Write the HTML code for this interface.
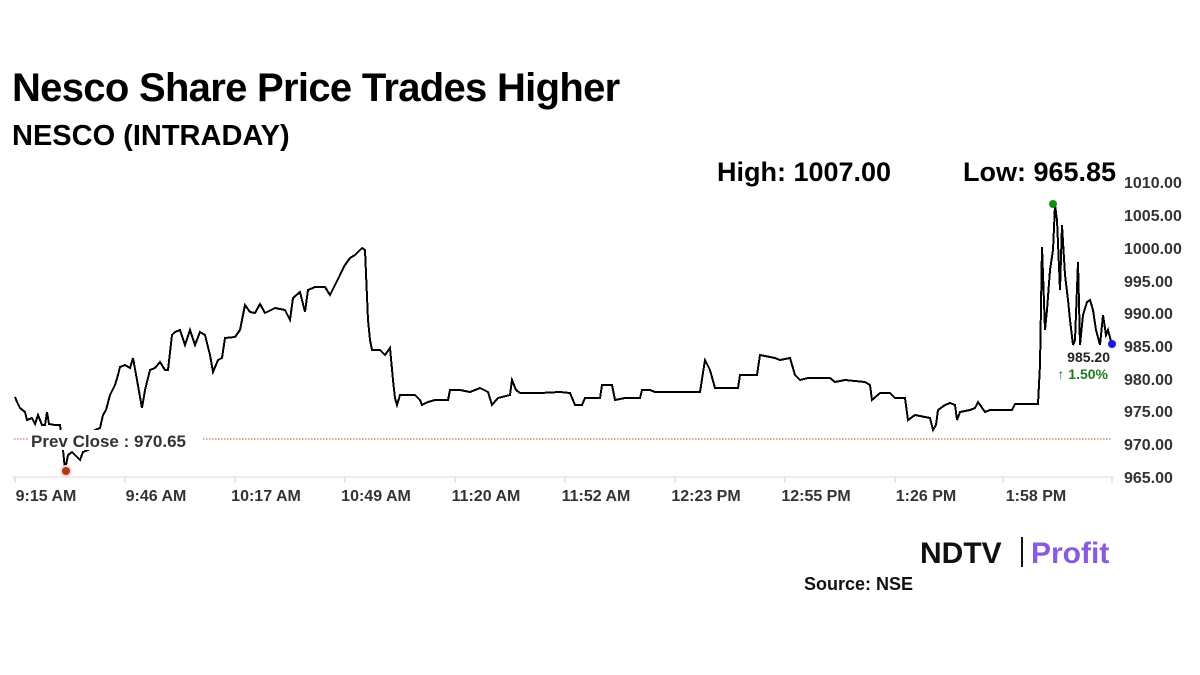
<!DOCTYPE html>
<html><head><meta charset="utf-8"><style>
body{margin:0;width:1200px;height:675px;background:#fff;overflow:hidden;font-family:"Liberation Sans",sans-serif}
.t{position:absolute;white-space:nowrap;color:#000}
</style></head><body>
<div class="t" style="left:12px;top:66px;font-size:40px;font-weight:bold;letter-spacing:-0.7px">Nesco Share Price Trades Higher</div>
<div class="t" style="left:12px;top:120px;font-size:29px;font-weight:bold">NESCO (INTRADAY)</div>
<div class="t" style="left:717px;top:157px;font-size:27px;font-weight:bold">High: 1007.00</div>
<div class="t" style="left:963px;top:157px;font-size:27px;font-weight:bold">Low: 965.85</div>
<svg width="1200" height="675" style="position:absolute;left:0;top:0">
<g font-family="Liberation Sans" font-weight="bold" font-size="16" fill="#333">
<text x="1124" y="188">1010.00</text><text x="1124" y="221">1005.00</text><text x="1124" y="254">1000.00</text>
<text x="1124" y="287">995.00</text><text x="1124" y="319">990.00</text><text x="1124" y="352">985.00</text>
<text x="1124" y="385">980.00</text><text x="1124" y="417">975.00</text><text x="1124" y="450">970.00</text><text x="1124" y="483">965.00</text>
</g>
<line x1="12" y1="477" x2="1114" y2="477" stroke="#ddd"/>
<g stroke="#ccc"><line x1="15" y1="477" x2="15" y2="483"/><line x1="125" y1="477" x2="125" y2="483"/><line x1="235" y1="477" x2="235" y2="483"/><line x1="345" y1="477" x2="345" y2="483"/><line x1="455" y1="477" x2="455" y2="483"/><line x1="565" y1="477" x2="565" y2="483"/><line x1="675" y1="477" x2="675" y2="483"/><line x1="785" y1="477" x2="785" y2="483"/><line x1="895" y1="477" x2="895" y2="483"/><line x1="1003" y1="477" x2="1003" y2="483"/><line x1="1112" y1="477" x2="1112" y2="483"/></g>
<g font-family="Liberation Sans" font-weight="bold" font-size="16" fill="#333" text-anchor="middle">
<text x="46" y="501">9:15 AM</text><text x="156" y="501">9:46 AM</text><text x="266" y="501">10:17 AM</text><text x="376" y="501">10:49 AM</text><text x="486" y="501">11:20 AM</text><text x="596" y="501">11:52 AM</text><text x="706" y="501">12:23 PM</text><text x="816" y="501">12:55 PM</text><text x="926" y="501">1:26 PM</text><text x="1036" y="501">1:58 PM</text>
</g>
<line x1="14" y1="439" x2="1112" y2="439" stroke="#b5542a" stroke-dasharray="1.5,1.5"/>
<polyline fill="none" stroke="#000" stroke-width="2" stroke-linejoin="miter" shape-rendering="crispEdges" points="15,397 17,402 20,408 25,412 27,420 32,418 35,424 38,415 42,425 45,425 47,412 49,424 55,425 60,425 63,450 65,470 68,455 72,452 80,460 83,452 88,450 95,430 100,428 103,415 106,410 110,395 115,385 118,375 120,367 125,365 130,368 133,358 137,380 142,408 145,390 150,370 155,368 160,362 165,370 168,370 172,335 175,332 180,330 185,345 190,330 195,345 200,332 205,335 210,355 213,372 218,360 222,358 225,338 235,337 240,330 245,305 250,312 255,313 260,304 265,313 275,308 285,310 290,320 293,298 300,292 305,312 308,290 315,287 325,287 330,295 335,285 340,275 345,265 350,258 355,255 362,248 365,250 368,320 370,340 372,350 380,350 385,355 390,348 393,380 395,398 397,405 400,395 415,395 420,400 422,405 428,402 435,400 448,400 450,390 460,390 470,392 480,388 488,392 492,405 498,398 510,395 512,380 516,390 520,393 540,393 560,392 570,393 575,405 582,405 585,398 600,398 602,385 612,385 615,400 625,398 640,398 642,390 650,390 655,392 680,392 700,392 705,360 710,370 715,388 720,388 738,388 740,375 757,375 760,355 775,358 780,360 790,358 795,375 800,380 808,378 830,378 835,382 845,380 865,382 870,385 872,400 880,393 890,393 895,398 905,398 908,420 915,415 930,418 933,430 936,425 938,410 945,405 950,403 955,405 957,420 960,412 970,410 975,408 978,402 985,412 990,410 1012,410 1015,404 1038,404 1040,365 1042,247 1045,330 1047,310 1050,270 1053,250 1055,205 1057,220 1060,290 1062,225 1065,275 1068,300 1070,320 1073,345 1075,340 1078,262 1080,345 1083,315 1087,302 1090,300 1093,310 1096,330 1100,345 1103,315 1106,335 1108,330 1112,345"/>
<circle cx="1053" cy="204" r="4" fill="#138a13"/>
<circle cx="66" cy="471" r="6" fill="#fbd3e9"/><circle cx="66" cy="471" r="4" fill="#a4410c"/>
<circle cx="1112" cy="344" r="4" fill="#1a1ae6"/>
<rect x="28" y="430" width="174" height="20" fill="#fff"/>
<text x="31" y="447" font-family="Liberation Sans" font-weight="bold" font-size="17" fill="#333">Prev Close : 970.65</text>
<text x="1110" y="362" text-anchor="end" font-family="Liberation Sans" font-weight="bold" font-size="14" fill="#222">985.20</text>
<text x="1108" y="379" text-anchor="end" font-family="Liberation Sans" font-weight="bold" font-size="14" fill="#1f7a1f">↑ 1.50%</text>
<text x="920" y="563" font-family="Liberation Sans" font-weight="bold" font-size="30" fill="#111" letter-spacing="0">NDTV</text>
<line x1="1022" y1="537" x2="1022" y2="567" stroke="#111" stroke-width="2"/>
<text x="1031" y="563" font-family="Liberation Sans" font-weight="bold" font-size="30" fill="#8a5ae0">Profit</text>
<text x="804" y="590" font-family="Liberation Sans" font-weight="bold" font-size="18" fill="#111">Source: NSE</text>
</svg>
</body></html>
